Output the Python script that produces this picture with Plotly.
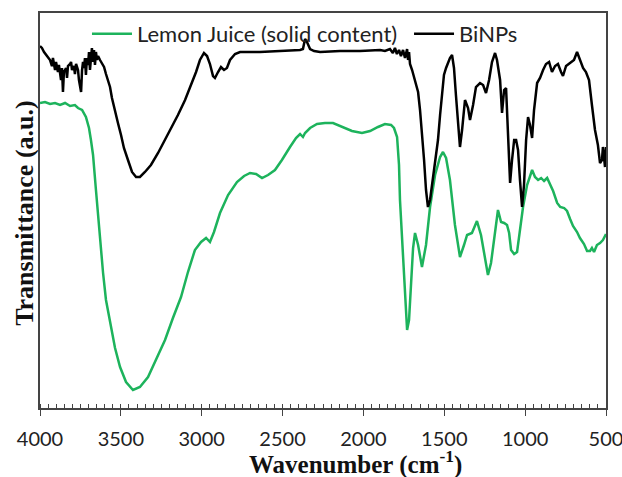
import plotly.graph_objects as go

# Lemon Juice (solid content) - wavenumber (cm-1) and transmittance (a.u.)
lemon_wn = [4000, 3969, 3938, 3907, 3876, 3845, 3814, 3784, 3765, 3740, 3716, 3697, 3685, 3672,
            3654, 3635, 3610, 3592, 3567, 3536, 3505, 3468, 3425, 3382, 3332, 3283, 3227, 3178,
            3128, 3085, 3042, 3004, 2973, 2949, 2924, 2887, 2837, 2782, 2738, 2701, 2664, 2627,
            2590, 2547, 2504, 2454, 2417, 2392, 2374, 2361, 2330, 2287, 2238, 2188, 2126, 2071,
            2009, 1959, 1910, 1867, 1829, 1811, 1792, 1780, 1774, 1761, 1749, 1736, 1730, 1718,
            1706, 1693, 1681, 1662, 1638, 1613, 1588, 1557, 1526, 1508, 1489, 1465, 1434, 1403,
            1378, 1359, 1329, 1298, 1273, 1248, 1230, 1211, 1186, 1168, 1149, 1130, 1112, 1099,
            1087, 1068, 1050, 1032, 1013, 988, 957, 939, 920, 901, 883, 864, 846, 827, 802, 783,
            759, 741, 722, 704, 679, 661, 636, 617, 599, 587, 574, 556, 537, 519, 500]
lemon_t = [305, 306, 304, 305, 303, 305, 302, 303, 300, 298, 291, 280, 268, 253,
           218, 178, 135, 108, 85, 60, 41, 26, 18, 21, 31, 48, 68, 90,
           111, 136, 158, 166, 170, 166, 176, 195, 213, 226, 232, 235, 234, 230,
           233, 238, 248, 261, 270, 274, 271, 275, 280, 284, 285, 285, 281, 277,
           275, 277, 281, 284, 283, 280, 271, 243, 208, 168, 128, 90, 78, 88,
           123, 160, 175, 163, 141, 163, 201, 233, 251, 256, 250, 228, 183, 151,
           163, 173, 175, 187, 173, 148, 133, 145, 173, 198, 186, 185, 183, 175,
           158, 154, 156, 178, 201, 223, 238, 231, 228, 230, 227, 230, 224, 217, 205, 201,
           200, 197, 189, 182, 176, 170, 164, 157, 157, 160, 156, 163, 165, 168, 174]

# BiNPs - wavenumber (cm-1) and transmittance (a.u.)
binps_wn = [4000, 3988, 3975, 3963, 3951, 3938, 3926, 3920, 3907, 3901, 3889, 3883, 3870, 3864,
            3858, 3852, 3839, 3833, 3827, 3814, 3808, 3802, 3790, 3784, 3777, 3765, 3759, 3746,
            3740, 3734, 3728, 3722, 3716, 3710, 3703, 3697, 3691, 3685, 3679, 3672, 3666, 3660,
            3654, 3648, 3641, 3629, 3617, 3604, 3592, 3579, 3567, 3555, 3536, 3518, 3499, 3481,
            3456, 3431, 3406, 3382, 3351, 3314, 3270, 3227, 3184, 3147, 3103, 3066, 3035, 3011,
            2986, 2967, 2949, 2930, 2918, 2899, 2881, 2862, 2844, 2825, 2794, 2763, 2640, 2516,
            2392, 2374, 2361, 2349, 2330, 2305, 2268, 2145, 2021, 1897, 1867, 1836, 1818, 1805,
            1793, 1780, 1768, 1755, 1743, 1730, 1724, 1718, 1712, 1699, 1687, 1675, 1662, 1650,
            1638, 1625, 1613, 1601, 1588, 1576, 1563, 1551, 1539, 1526, 1514, 1502, 1489, 1477,
            1465, 1452, 1440, 1428, 1415, 1403, 1390, 1372, 1353, 1341, 1322, 1304, 1279, 1260,
            1242, 1223, 1205, 1186, 1174, 1155, 1143, 1130, 1118, 1106, 1093, 1081, 1068, 1056,
            1044, 1032, 1019, 1007, 994, 982, 970, 957, 945, 926, 908, 889, 871, 852, 834, 815,
            797, 778, 766, 747, 722, 698, 679, 661, 642, 624, 605, 587, 568, 550, 537, 525,
            519, 506, 500]
binps_t = [362, 360, 356, 353, 350, 348, 342, 350, 338, 346, 336, 343, 328, 340,
           316, 336, 340, 330, 342, 344, 346, 338, 342, 334, 344, 338, 328, 316,
           338, 346, 340, 350, 333, 350, 343, 356, 338, 353, 360, 346, 358, 343,
           356, 348, 352, 348, 345, 341, 334, 326, 321, 310, 296, 285, 273, 260,
           248, 236, 231, 231, 236, 243, 255, 268, 281, 293, 308, 323, 336, 348,
           355, 352, 344, 332, 330, 336, 341, 338, 340, 348, 354, 356, 356, 357,
           358, 359, 369, 366, 359, 357, 356, 357, 357, 358, 357, 359, 355, 360,
           354, 358, 352, 358, 350, 359, 348, 356, 344, 338, 330, 325, 316, 298,
           275, 248, 218, 201, 208, 223, 236, 250, 268, 293, 313, 333, 340, 346,
           350, 353, 340, 313, 283, 261, 278, 308, 300, 288, 303, 321, 325, 323,
           315, 328, 346, 355, 348, 328, 295, 318, 320, 278, 225, 248, 268, 268,
           258, 228, 201, 223, 268, 291, 283, 270, 298, 325, 330, 338, 344, 346, 336, 342,
           344, 336, 332, 342, 345, 348, 356, 348, 340, 336, 328, 303, 278, 263, 245, 248,
           261, 241, 261]

x_tickvals = [4000, 3500, 3000, 2500, 2000, 1500, 1000, 500]
x_ticktext = ["4000", "3500", "3000", "2500", "2000", "1500", "1000", "500"]
x_title = "<b>Wavenumber (cm<sup>-1</sup>)</b>"
y_title = "<b>Transmittance (a.u.)</b>"

legend_font = dict(family="Lato", size=22, color="#222222")

fig = go.Figure()
fig.add_trace(go.Scatter(x=lemon_wn, y=lemon_t, mode="lines",
                         name="Lemon Juice (solid content)", legend="legend",
                         line=dict(color="#1DB35C", width=2.5)))
fig.add_trace(go.Scatter(x=binps_wn, y=binps_t, mode="lines", name="BiNPs",
                         legend="legend2",
                         line=dict(color="#000000", width=2.5)))

fig.update_layout(
    width=622, height=477,
    margin=dict(l=40, r=16, t=13, b=69, autoexpand=False),
    paper_bgcolor="white", plot_bgcolor="white",
    showlegend=True,
    legend=dict(orientation="h", x=0.083, y=1.0, xanchor="left", yanchor="top",
                font=legend_font, bgcolor="rgba(0,0,0,0)", itemwidth=40),
    legend2=dict(orientation="h", x=0.652, y=1.0, xanchor="left", yanchor="top",
                 font=legend_font, bgcolor="rgba(0,0,0,0)", itemwidth=40),
    xaxis=dict(range=[4000, 500], tickvals=x_tickvals, ticktext=x_ticktext,
               automargin=False, ticklabeloverflow="allow",
               showgrid=False, zeroline=False, showline=True, linecolor="#444444",
               linewidth=1.5, mirror=True, ticks="outside", ticklen=6,
               tickcolor="#444444", tickwidth=1.2, ticklabelstandoff=6,
               tickfont=dict(family="Lato", size=20, color="#222222"),
               minor=dict(ticks="inside", dtick=50, tick0=0, ticklen=4,
                          tickcolor="#444444", tickwidth=1)),
    yaxis=dict(range=[0, 395], showticklabels=False, ticks="", showgrid=False,
               automargin=False,
               zeroline=False, showline=True, linecolor="#444444", linewidth=1.5,
               mirror=True),
    annotations=[
        dict(text=x_title, xref="paper", yref="paper", x=0.557, y=-0.137,
             xanchor="center", yanchor="middle", showarrow=False,
             font=dict(family="Liberation Serif", size=25, color="#111111")),
        dict(text=y_title, xref="paper", yref="paper", x=-0.0265, y=0.494,
             xanchor="center", yanchor="middle", showarrow=False, textangle=-90,
             font=dict(family="Liberation Serif", size=26, color="#111111")),
    ],
)

fig.write_html("out.html", config={"displayModeBar": False},
               post_script="document.body.style.margin='0';")
